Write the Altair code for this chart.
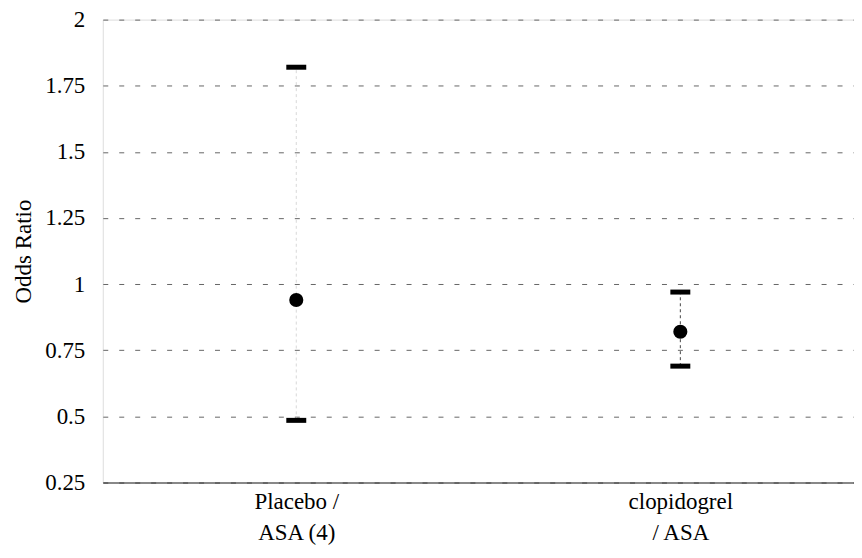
import altair as alt
import pandas as pd

categories = ["Placebo /\nASA (4)", "clopidogrel\n/ ASA"]
odds_ratio = [0.94, 0.82]
lower_ci = [0.485, 0.69]
upper_ci = [1.82, 0.97]
y_ticks = [0.25, 0.5, 0.75, 1.0, 1.25, 1.5, 1.75, 2.0]

df = pd.DataFrame({
    "group": categories,
    "or": odds_ratio,
    "lo": lower_ci,
    "hi": upper_ci,
})

FONT = "'Liberation Serif', 'Times New Roman', Times, serif"

x_enc = alt.X(
    "group:N",
    sort=categories,
    title=None,
    scale=alt.Scale(type="point", padding=0.478, align=0.527),
    axis=alt.Axis(
        labelExpr="split(datum.label, '\\n')",
        labelFont=FONT, labelFontSize=23, labelColor="black",
        labelLineHeight=31, labelPadding=8, labelAngle=0,
        ticks=False, domainColor="#222222", domainWidth=1.2,
        grid=False,
    ),
)

y_scale = alt.Scale(domain=[0.25, 2], nice=False, zero=False)

base = alt.Chart(df)

rule = base.mark_rule(strokeDash=[3, 3], strokeWidth=1).encode(
    x=x_enc,
    y=alt.Y("lo:Q", scale=y_scale),
    y2="hi:Q",
    color=alt.Color("group:N", scale=alt.Scale(domain=categories, range=["#d8d8d8", "#444444"]), legend=None),
)

caps_lo = base.mark_tick(color="black", size=20, thickness=5, opacity=1).encode(
    x=x_enc, y=alt.Y("lo:Q", scale=y_scale)
)
caps_hi = base.mark_tick(color="black", size=20, thickness=5, opacity=1).encode(
    x=x_enc, y=alt.Y("hi:Q", scale=y_scale)
)

points = base.mark_circle(color="black", size=200, opacity=1).encode(
    x=x_enc,
    y=alt.Y(
        "or:Q",
        scale=y_scale,
        title="Odds Ratio",
        axis=alt.Axis(
            values=y_ticks, format=".2~f",
            labelFont=FONT, labelFontSize=23, labelColor="black", labelPadding=18,
            titleFont=FONT, titleFontSize=23, titleFontWeight="normal", titleColor="black",
            titlePadding=9,
            ticks=False, domain=False,
            grid=True, gridColor="#666666", gridDash=[5, 11], gridWidth=1,
        ),
    ),
)

chart = alt.layer(rule, caps_lo, caps_hi, points).properties(
    width=753, height=464,
    autosize=alt.AutoSizeParams(type="none"),
    padding={"left": 95, "top": 11, "right": 0, "bottom": 67},
).configure_view(stroke=None).configure(background="white")

chart.save("out.html", embed_options={"renderer": "svg", "actions": False})
